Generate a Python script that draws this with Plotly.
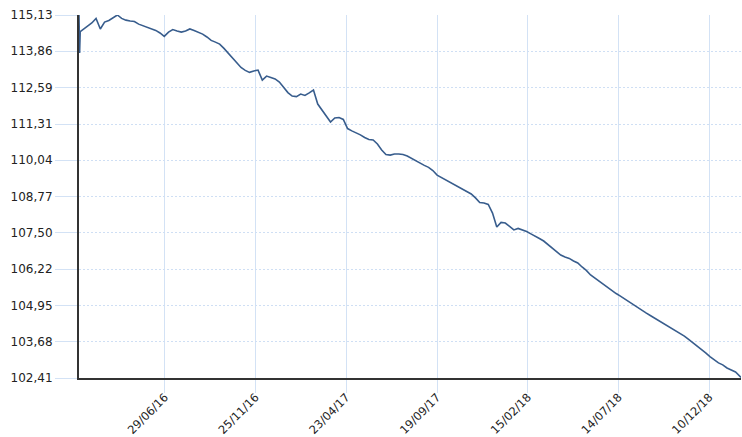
import pandas as pd
import plotly.graph_objects as go

# Opening days (daily), then weekly observations
start_dates = ["2016-02-09", "2016-02-10", "2016-02-11"]
start_values = [115.13, 113.80, 114.55]

weekly_start = "2016-02-16"
weekly_values = [
    114.64, 114.74, 114.85, 115.01, 114.64, 114.88, 114.94, 115.03, 115.13, 115.01,
    114.95, 114.92, 114.90, 114.81, 114.76, 114.71, 114.66, 114.59, 114.50, 114.38,
    114.53, 114.62, 114.57, 114.53, 114.57, 114.64, 114.59, 114.52, 114.46, 114.36,
    114.24, 114.18, 114.11, 113.96, 113.80, 113.64, 113.48, 113.29, 113.19, 113.12,
    113.17, 113.20, 112.85, 112.99, 112.94, 112.89, 112.78, 112.61, 112.41, 112.29,
    112.27, 112.36, 112.31, 112.40, 112.50, 112.01, 111.80, 111.57, 111.38, 111.52,
    111.54, 111.47, 111.15, 111.07, 111.01, 110.93, 110.84, 110.77, 110.75, 110.61,
    110.40, 110.24, 110.22, 110.26, 110.26, 110.24, 110.19, 110.10, 110.03, 109.94,
    109.86, 109.79, 109.68, 109.52, 109.44, 109.35, 109.26, 109.19, 109.10, 109.03,
    108.96, 108.86, 108.72, 108.56, 108.54, 108.49, 108.19, 107.70, 107.86, 107.84,
    107.72, 107.60, 107.65, 107.60, 107.54, 107.46, 107.39, 107.30, 107.21, 107.09,
    106.95, 106.83, 106.72, 106.65, 106.60, 106.51, 106.44, 106.30, 106.18, 106.02,
    105.91, 105.81, 105.67, 105.56, 105.46, 105.37, 105.28, 105.18, 105.07, 104.99,
    104.86, 104.78, 104.69, 104.60, 104.51, 104.42, 104.34, 104.23, 104.14, 104.06,
    103.97, 103.88, 103.76, 103.65, 103.53, 103.41, 103.29, 103.16, 103.04, 102.94,
    102.87, 102.76, 102.69, 102.62,
]
end_dates = ["2019-01-31"]
end_values = [102.43]

y_ticks = [102.41, 103.68, 104.95, 106.22, 107.50, 108.77, 110.04, 111.31, 112.59, 113.86, 115.13]
y_tick_labels = ["102,41", "103,68", "104,95", "106,22", "107,50", "108,77",
                 "110,04", "111,31", "112,59", "113,86", "115,13"]
x_ticks = ["2016-06-29", "2016-11-25", "2017-04-23", "2017-09-19",
           "2018-02-15", "2018-07-14", "2018-12-10"]
x_tick_labels = ["29/06/16", "25/11/16", "23/04/17", "19/09/17",
                 "15/02/18", "14/07/18", "10/12/18"]

weekly_dates = pd.date_range(weekly_start, periods=len(weekly_values), freq="7D")
dates = list(pd.to_datetime(start_dates)) + list(weekly_dates) + list(pd.to_datetime(end_dates))
values = start_values + weekly_values + end_values

fig = go.Figure(go.Scatter(
    x=dates, y=values, mode="lines",
    line=dict(color="#385d8d", width=1.6),
    hoverinfo="skip",
))

y_font = dict(family="DejaVu Sans, Verdana, sans-serif", size=12, color="#222222")
x_font = dict(family="DejaVu Sans, Verdana, sans-serif", size=11.5, color="#222222")
fig.update_layout(
    width=742, height=437,
    margin=dict(l=79, r=1, t=15, b=59, autoexpand=False),
    paper_bgcolor="white", plot_bgcolor="white",
    showlegend=False,
    xaxis=dict(
        range=["2016-02-09", "2019-01-31"],
        tickmode="array", tickvals=x_ticks, ticktext=x_tick_labels,
        tickangle=-45, tickfont=x_font, automargin=False,
        ticklabelstandoff=-7,
        showgrid=True, gridcolor="#d3e2f5", gridwidth=1,
        ticks="outside", ticklen=13, tickcolor="#d3e2f5",
        showline=True, linecolor="#333333", linewidth=2,
        zeroline=False,
    ),
    yaxis=dict(
        range=[102.41, 115.13],
        tickmode="array", tickvals=y_ticks, ticktext=y_tick_labels,
        tickfont=y_font, automargin=False,
        showgrid=True, gridcolor="#cfdff4", gridwidth=1, griddash="2px,2px",
        ticks="outside", ticklen=22, tickcolor="#d3e2f5",
        showline=True, linecolor="#333333", linewidth=2,
        zeroline=False,
    ),
)

fig.write_html(
    "out.html",
    config={"displayModeBar": False, "staticPlot": True},
    post_script="document.body.style.margin='0';document.body.style.overflow='hidden';",
)
